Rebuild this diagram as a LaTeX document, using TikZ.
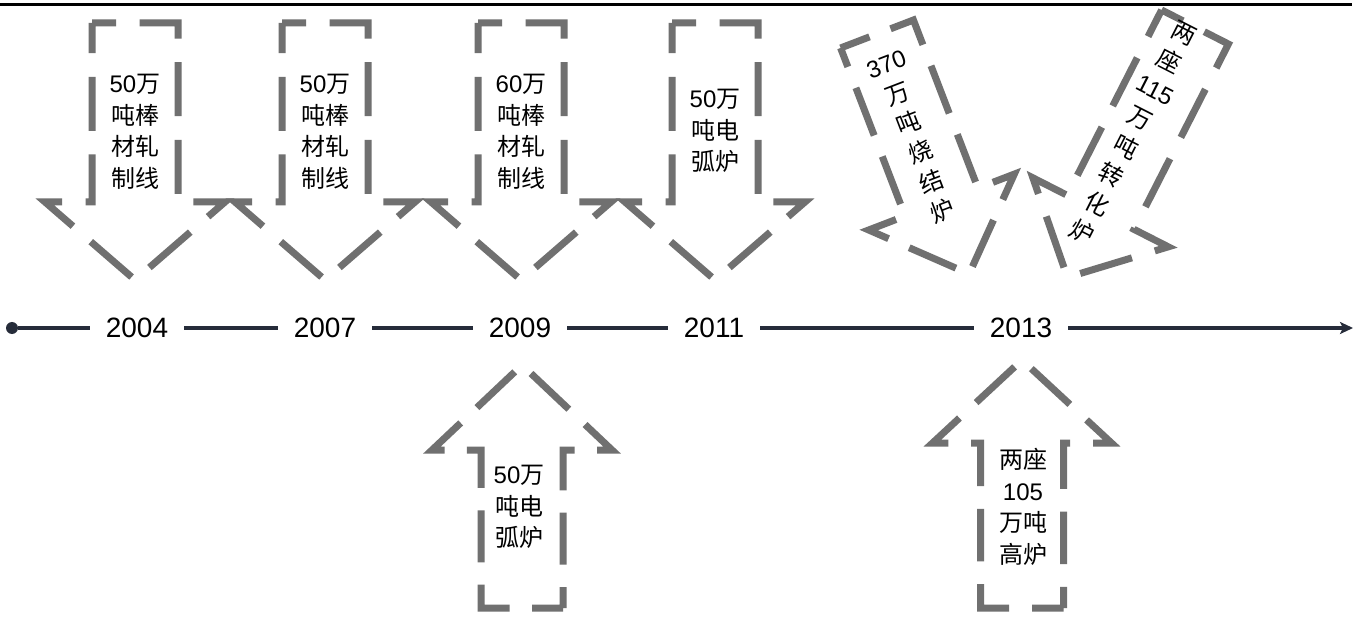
\documentclass[tikz,border=0pt]{standalone}
\usepackage{fontspec}
\setmainfont{Liberation Sans}
\newfontfamily\cjk{Noto Sans CJK SC}
\usetikzlibrary{arrows.meta}
\definecolor{ag}{HTML}{707070}
\definecolor{tl}{HTML}{262C3A}
% #1 position (top/bottom centre of body), #2 rotation, #3 half body width,
% #4 body length, #5 half head width, #6 tip distance, #7 dash on, #8 dash off, #9 phase
\newcommand\blockarrow[9]{%
  \draw[arrowline, shift={#1}, rotate=#2, dash pattern=on #7pt off #8pt, dash phase=#9pt]
    (-#3,0) -- (#3,0) -- (#3,#4) -- (#5,#4) -- (0,#6) -- (-#5,#4) -- (-#3,#4) -- cycle;}
\begin{document}
\begin{tikzpicture}[x=1pt,y=-1pt,
  arrowline/.style={draw=ag, line width=7pt, line join=miter, line cap=butt},
  txt/.style={align=center, font=\fontsize{24}{31.5}\selectfont, inner sep=0pt},
  year/.style={font=\fontsize{28}{34}\selectfont, inner xsep=16pt, inner ysep=4pt},
  tline/.style={draw=tl, line width=3.5pt}]
\useasboundingbox (0,0) rectangle (1360,620);
\fill[white] (0,0) rectangle (1360,620);
% top rule
\draw[line width=3pt] (0,5) -- (1352,5);
% timeline
\node[circle, fill=tl, inner sep=0pt, minimum size=12pt] (dot) at (12,328) {};
\node[year] (y2004) at (137,328) {2004};
\node[year] (y2007) at (325,328) {2007};
\node[year] (y2009) at (520,328) {2009};
\node[year] (y2011) at (714,328) {2011};
\node[year] (y2013) at (1021,328) {2013};
\coordinate (tend) at (1353,328);
\draw[tline] (dot) -- (y2004) (y2004) -- (y2007) (y2007) -- (y2009) (y2009) -- (y2011) (y2011) -- (y2013);
\draw[tline, -{Stealth[length=13pt,width=12pt,inset=3pt]}] (y2013) -- (tend);
% down arrows
\blockarrow{(135,23)}{0}{43}{179}{90}{257}{54}{23.6}{30}
\blockarrow{(325,23)}{0}{43}{179}{90}{257}{54}{23.6}{30}
\blockarrow{(521,23)}{0}{43}{179}{90}{257}{54}{23.6}{30}
\blockarrow{(715,23)}{0}{43}{179}{90}{257}{54}{23.6}{30}
% up arrows
\blockarrow{(522,608)}{180}{41}{158}{90}{243}{52}{22.36}{21}
\blockarrow{(1022,608)}{180}{41.5}{165}{89.5}{248}{52.5}{22.8}{21}
% tilted arrows
\blockarrow{(877,34)}{21}{39}{180}{78}{257}{51}{22.5}{20}
\blockarrow{(1195,27)}{-27}{37.5}{208}{76}{281}{54}{23.9}{30}
% texts
\node[txt] (a1) at (135,132) {50{\cjk 万}\\{\cjk 吨棒}\\{\cjk 材轧}\\{\cjk 制线}};
\node[txt] (a2) at (325,132) {50{\cjk 万}\\{\cjk 吨棒}\\{\cjk 材轧}\\{\cjk 制线}};
\node[txt] (a3) at (521,132) {60{\cjk 万}\\{\cjk 吨棒}\\{\cjk 材轧}\\{\cjk 制线}};
\node[txt] (a4) at (715,131) {50{\cjk 万}\\{\cjk 吨电}\\{\cjk 弧炉}};
\node[txt] (c1) at (519,507) {50{\cjk 万}\\{\cjk 吨电}\\{\cjk 弧炉}};
\node[txt] (c2) at (1023,507) {{\cjk 两座}\\105\\{\cjk 万吨}\\{\cjk 高炉}};
\node[txt, rotate=21] (b1) at (915,139) {370\\{\cjk 万}\\{\cjk 吨}\\{\cjk 烧}\\{\cjk 结}\\{\cjk 炉}};
\node[txt, rotate=-27, font=\fontsize{24}{32}\selectfont] (b2) at (1133,133) {{\cjk 两}\\{\cjk 座}\\115\\{\cjk 万}\\{\cjk 吨}\\{\cjk 转}\\{\cjk 化}\\{\cjk 炉}};
\end{tikzpicture}
\end{document}
